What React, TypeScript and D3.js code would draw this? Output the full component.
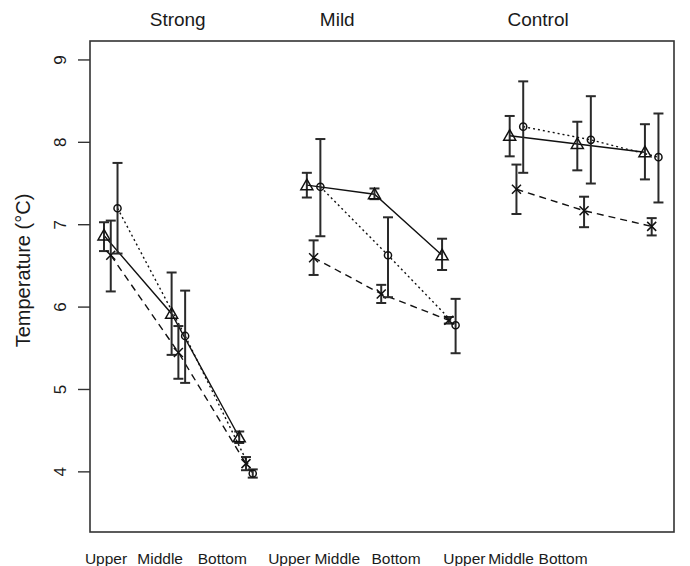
import { useEffect, useRef } from 'react';
import * as d3 from 'd3';

const groups = ['Strong', 'Mild', 'Control'];
const positions = ['Upper', 'Middle', 'Bottom'];

// slot positions (in slot units) for the text under the box and the group titles
const groupTitleAt = [1.09, 3.45, 6.42];
const positionLabelAt = [0.03, 0.83, 1.75, 2.74, 3.45, 4.32, 5.33, 6.02, 6.79];

const yTicks = [4, 5, 6, 7, 8, 9];

// triangles, solid line
const triMean = [6.87, 5.92, 4.42, 7.48, 7.37, 6.63, 8.08, 7.98, 7.88];
const triLo = [6.68, 5.42, 4.35, 7.33, 7.31, 6.45, 7.83, 7.66, 7.55];
const triHi = [7.03, 6.42, 4.49, 7.63, 7.44, 6.83, 8.32, 8.25, 8.22];

// crosses, dashed line
const crossMean = [6.63, 5.45, 4.1, 6.6, 6.16, 5.84, 7.43, 7.17, 6.98];
const crossLo = [6.19, 5.13, 4.02, 6.39, 6.05, 5.8, 7.13, 6.97, 6.87];
const crossHi = [7.05, 5.77, 4.18, 6.81, 6.27, 5.88, 7.73, 7.34, 7.08];

// circles, dotted line
const circMean = [7.2, 5.65, 3.98, 7.46, 6.63, 5.78, 8.19, 8.03, 7.82];
const circLo = [6.65, 5.08, 3.93, 6.86, 6.12, 5.44, 7.63, 7.5, 7.27];
const circHi = [7.75, 6.2, 4.03, 8.04, 7.09, 6.1, 8.74, 8.56, 8.35];

type Series = {
  mean: number[];
  lo: number[];
  hi: number[];
  offset: number;
  shape: 'triangle' | 'cross' | 'circle';
  dash: string | null;
};

const series: Series[] = [
  { mean: triMean, lo: triLo, hi: triHi, offset: 0, shape: 'triangle', dash: null },
  { mean: crossMean, lo: crossLo, hi: crossHi, offset: 0.1, shape: 'cross', dash: '7 5' },
  { mean: circMean, lo: circLo, hi: circHi, offset: 0.2, shape: 'circle', dash: '2 3' },
];

const FONT = '"Liberation Sans", Arial, Helvetica, sans-serif';
const INK = '#1a1a1a';

export default function App() {
  const svgRef = useRef<SVGSVGElement | null>(null);

  useEffect(() => {
    if (!svgRef.current) return;
    const width = 690;
    const height = 566;
    const box = { left: 90, right: 674, top: 41, bottom: 532 };

    const svg = d3.select(svgRef.current).attr('width', width).attr('height', height);
    svg.selectAll('*').remove();

    const x = d3.scaleLinear().domain([-0.207, 8.43]).range([box.left, box.right]);
    const y = d3.scaleLinear().domain([3.27, 9.23]).range([box.bottom, box.top]);

    svg
      .append('rect')
      .attr('x', box.left)
      .attr('y', box.top)
      .attr('width', box.right - box.left)
      .attr('height', box.bottom - box.top)
      .attr('fill', 'none')
      .attr('stroke', '#333')
      .attr('stroke-width', 1.6);

    // y axis ticks + rotated labels
    const yAxis = svg.append('g');
    yAxis
      .selectAll('line')
      .data(yTicks)
      .join('line')
      .attr('x1', box.left - 12)
      .attr('x2', box.left)
      .attr('y1', (d) => y(d))
      .attr('y2', (d) => y(d))
      .attr('stroke', '#333')
      .attr('stroke-width', 1.4);
    yAxis
      .selectAll('text')
      .data(yTicks)
      .join('text')
      .attr('transform', (d) => `translate(66,${y(d)}) rotate(-90)`)
      .attr('text-anchor', 'middle')
      .attr('font-family', FONT)
      .attr('font-size', 17)
      .attr('fill', INK)
      .text((d) => d);

    svg
      .append('text')
      .attr('transform', `translate(30,${(box.top + box.bottom) / 2 - 16}) rotate(-90)`)
      .attr('text-anchor', 'middle')
      .attr('font-family', FONT)
      .attr('font-size', 20)
      .attr('fill', INK)
      .text('Temperature (°C)');

    // group titles
    svg
      .append('g')
      .selectAll('text')
      .data(groups)
      .join('text')
      .attr('x', (_, i) => x(groupTitleAt[i]))
      .attr('y', 26)
      .attr('text-anchor', 'middle')
      .attr('font-family', FONT)
      .attr('font-size', 19)
      .attr('fill', INK)
      .text((d) => d);

    // position labels under the box
    const labels = groups.flatMap(() => positions);
    svg
      .append('g')
      .selectAll('text')
      .data(labels)
      .join('text')
      .attr('x', (_, i) => x(positionLabelAt[i]))
      .attr('y', 564)
      .attr('text-anchor', 'middle')
      .attr('font-family', FONT)
      .attr('font-size', 15.5)
      .attr('fill', INK)
      .text((d) => d);

    const line = d3
      .line<{ x: number; y: number }>()
      .x((p) => p.x)
      .y((p) => p.y);

    series.forEach((s) => {
      const g = svg.append('g');
      const px = (i: number) => x(i + s.offset);

      // connecting lines, one per group
      groups.forEach((_, gi) => {
        const pts = positions.map((__, pi) => {
          const i = gi * 3 + pi;
          return { x: px(i), y: y(s.mean[i]) };
        });
        g.append('path')
          .attr('d', line(pts))
          .attr('fill', 'none')
          .attr('stroke', '#111')
          .attr('stroke-width', 1.4)
          .attr('stroke-dasharray', s.dash ?? null);
      });

      // error bars
      const idx = d3.range(s.mean.length);
      const bars = g.append('g').attr('stroke', '#2a2a2a').attr('stroke-width', 2);
      bars
        .selectAll('line.v')
        .data(idx)
        .join('line')
        .attr('class', 'v')
        .attr('x1', (i) => px(i))
        .attr('x2', (i) => px(i))
        .attr('y1', (i) => y(s.lo[i]))
        .attr('y2', (i) => y(s.hi[i]));
      bars
        .selectAll('line.lo')
        .data(idx)
        .join('line')
        .attr('class', 'lo')
        .attr('x1', (i) => px(i) - 5)
        .attr('x2', (i) => px(i) + 5)
        .attr('y1', (i) => y(s.lo[i]))
        .attr('y2', (i) => y(s.lo[i]));
      bars
        .selectAll('line.hi')
        .data(idx)
        .join('line')
        .attr('class', 'hi')
        .attr('x1', (i) => px(i) - 5)
        .attr('x2', (i) => px(i) + 5)
        .attr('y1', (i) => y(s.hi[i]))
        .attr('y2', (i) => y(s.hi[i]));

      // markers (hollow, as in base graphics)
      const marks = g
        .append('g')
        .selectAll('path')
        .data(idx)
        .join('path')
        .attr('transform', (i) => `translate(${px(i)},${y(s.mean[i])})`)
        .attr('fill', 'none')
        .attr('stroke', '#111')
        .attr('stroke-width', 1.5);
      if (s.shape === 'triangle') {
        marks.attr('d', 'M0,-6L6,4.5L-6,4.5Z');
      } else if (s.shape === 'cross') {
        marks.attr('d', 'M-4.5,-4.5L4.5,4.5M-4.5,4.5L4.5,-4.5');
      } else {
        marks.attr('d', d3.symbol(d3.symbolCircle, 40)() as string);
      }
    });
  }, []);

  return (
    <svg
      ref={svgRef}
      style={{ position: 'absolute', left: 0, top: 0, display: 'block', background: '#fff' }}
    />
  );
}
